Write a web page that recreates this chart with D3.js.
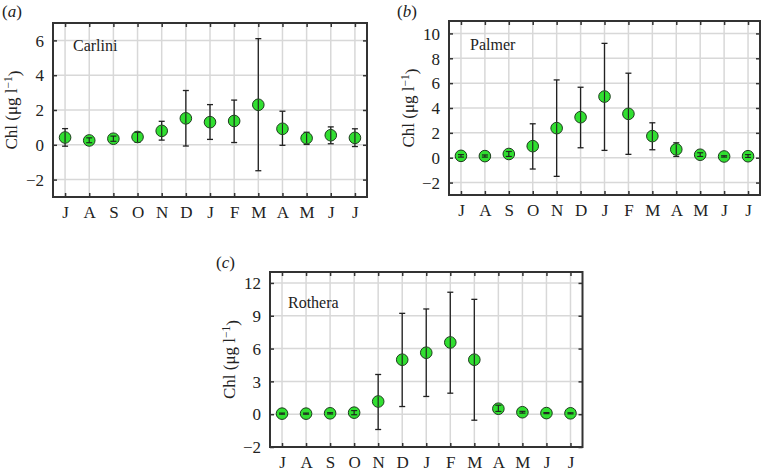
<!DOCTYPE html>
<html><head><meta charset="utf-8">
<script src="https://cdn.jsdelivr.net/npm/d3@7"></script>
<style>
body{margin:0;background:#fff;}
svg text{font-family:"Liberation Serif","Times New Roman",Times,serif;fill:#222;}
</style></head>
<body><svg id="chart" width="763" height="471"></svg>
<script>
const months = ["J","A","S","O","N","D","J","F","M","A","M","J","J"];

const carliniMean = [0.42,0.25,0.35,0.45,0.8,1.52,1.3,1.37,2.3,0.92,0.38,0.55,0.4];
const carliniLow  = [-0.08,0.12,0.2,0.15,0.27,-0.07,0.31,0.13,-1.49,-0.03,0.02,0.06,-0.1];
const carliniHigh = [0.93,0.4,0.5,0.72,1.35,3.12,2.31,2.57,6.1,1.93,0.72,1.03,0.92];
const carliniTicks = [-2,0,2,4,6];
const carliniTickLabels = ["\u22122","0","2","4","6"];

const palmerMean = [0.15,0.13,0.3,0.93,2.38,3.26,4.92,3.53,1.74,0.67,0.24,0.1,0.12];
const palmerLow  = [0.05,0.05,0.1,-0.91,-1.5,0.8,0.59,0.27,0.64,0.1,0.1,0.05,0.02];
const palmerHigh = [0.25,0.22,0.5,2.73,6.26,5.67,9.2,6.8,2.81,1.2,0.4,0.16,0.25];
const palmerTicks = [-2,0,2,4,6,8,10];
const palmerTickLabels = ["\u22122","0","2","4","6","8","10"];

const rotheraMean = [0.05,0.05,0.08,0.14,1.16,4.98,5.62,6.56,4.98,0.5,0.18,0.1,0.08];
const rotheraLow  = [0.0,0.0,0.02,-0.05,-1.4,0.7,1.62,1.92,-0.55,0.25,0.1,0.05,0.03];
const rotheraHigh = [0.1,0.1,0.14,0.33,3.63,9.22,9.62,11.15,10.5,0.82,0.26,0.15,0.13];
const rotheraTicks = [-3,0,3,6,9,12];
const rotheraTickLabels = ["\u22122","0","3","6","9","12"];

const panels = [
  {tag:"a", name:"Carlini", mean:carliniMean, low:carliniLow, high:carliniHigh,
   ticks:carliniTicks, tickLabels:carliniTickLabels, domain:[-3,7],
   x0:53, x1:367, y0:23, y1:197, nameX:20, nameY:28, tagX:2, tagY:17, ylabX:11.2},
  {tag:"b", name:"Palmer", mean:palmerMean, low:palmerLow, high:palmerHigh,
   ticks:palmerTicks, tickLabels:palmerTickLabels, domain:[-3,11],
   x0:449, x1:760, y0:21, y1:195, nameX:21, nameY:29, tagX:397, tagY:17, ylabX:408.5},
  {tag:"c", name:"Rothera", mean:rotheraMean, low:rotheraLow, high:rotheraHigh,
   ticks:rotheraTicks, tickLabels:rotheraTickLabels, domain:[-3,13],
   x0:270, x1:582.5, y0:272, y1:447, nameX:18, nameY:36, tagX:216, tagY:268, ylabX:229.3}
];

const svg = d3.select("#chart");
const FONT = '"Liberation Serif","Times New Roman",Times,serif';

panels.forEach(p => {
  const idx = d3.range(1, months.length + 1);
  const x = d3.scaleLinear().domain([0.5, months.length + 0.5]).range([p.x0, p.x1]);
  const y = d3.scaleLinear().domain(p.domain).range([p.y1, p.y0]);
  const g = svg.append("g");

  // grid
  g.selectAll(".vg").data(idx).enter().append("line")
    .attr("x1", d => x(d)).attr("x2", d => x(d))
    .attr("y1", p.y0).attr("y2", p.y1)
    .attr("stroke", "#d8d8d8").attr("stroke-width", 1.5);
  g.selectAll(".hg").data(p.ticks).enter().append("line")
    .attr("x1", p.x0).attr("x2", p.x1)
    .attr("y1", d => y(d)).attr("y2", d => y(d))
    .attr("stroke", "#d8d8d8").attr("stroke-width", 1.5);

  // axes via d3 (tick marks inward)
  const bottomAx = d3.axisBottom(x).tickValues(idx).tickFormat((d,i) => months[i])
    .tickSizeInner(-4).tickSizeOuter(0).tickPadding(9);
  const topAx = d3.axisTop(x).tickValues(idx).tickFormat("").tickSizeInner(-4).tickSizeOuter(0);
  const leftAx = d3.axisLeft(y).tickValues(p.ticks).tickFormat((d,i) => p.tickLabels[i])
    .tickSizeInner(-4).tickSizeOuter(0).tickPadding(9);
  const rightAx = d3.axisRight(y).tickValues(p.ticks).tickFormat("").tickSizeInner(-4).tickSizeOuter(0);

  const gb = g.append("g").attr("transform", `translate(0,${p.y1})`).call(bottomAx);
  const gt = g.append("g").attr("transform", `translate(0,${p.y0})`).call(topAx);
  const gl = g.append("g").attr("transform", `translate(${p.x0},0)`).call(leftAx);
  const gr = g.append("g").attr("transform", `translate(${p.x1},0)`).call(rightAx);
  [gb, gt, gl, gr].forEach(a => {
    a.attr("font-family", FONT).attr("font-size", 17);
    a.select(".domain").remove();
    a.selectAll(".tick line").attr("stroke", "#333").attr("stroke-width", 1.5);
    a.selectAll("text").style("font-family", FONT)
      .style("font-size", "17px").attr("fill", "#222");
  });
  gb.selectAll("text").attr("dy", "0.71em");
  gl.selectAll("text").attr("dy", "0.34em");

  // box
  g.append("rect").attr("x", p.x0).attr("y", p.y0)
    .attr("width", p.x1 - p.x0).attr("height", p.y1 - p.y0)
    .attr("fill", "none").attr("stroke", "#333").attr("stroke-width", 2);

  // error bars
  const eb = g.append("g").attr("stroke", "#222").attr("stroke-width", 1.3);
  idx.forEach((d, i) => {
    const cx = x(d);
    eb.append("line").attr("x1", cx).attr("x2", cx)
      .attr("y1", y(p.low[i])).attr("y2", y(p.high[i]));
    eb.append("line").attr("x1", cx - 3).attr("x2", cx + 3)
      .attr("y1", y(p.low[i])).attr("y2", y(p.low[i]));
    eb.append("line").attr("x1", cx - 3).attr("x2", cx + 3)
      .attr("y1", y(p.high[i])).attr("y2", y(p.high[i]));
  });

  // markers
  g.selectAll(".pt").data(idx).enter().append("circle")
    .attr("cx", d => x(d)).attr("cy", (d,i) => y(p.mean[i])).attr("r", 5.8)
    .attr("fill", "#1fdc1f").attr("fill-opacity", 0.92)
    .attr("stroke", "#1d3a1d").attr("stroke-width", 1);
  // error bar portion visible inside marker
  const eb2 = g.append("g").attr("stroke", "#222").attr("stroke-width", 1.1);
  idx.forEach((d, i) => {
    const cx = x(d);
    const lo = Math.max(y(p.high[i]), y(p.mean[i]) - 5), hi = Math.min(y(p.low[i]), y(p.mean[i]) + 5);
    if (hi > lo) eb2.append("line").attr("x1", cx).attr("x2", cx).attr("y1", lo).attr("y2", hi);
    [p.low[i], p.high[i]].forEach(v => {
      if (Math.abs(y(v) - y(p.mean[i])) < 5)
        eb2.append("line").attr("x1", cx - 3).attr("x2", cx + 3).attr("y1", y(v)).attr("y2", y(v));
    });
  });

  // station name
  g.append("text").attr("x", p.x0 + p.nameX).attr("y", p.y0 + p.nameY)
    .style("font-size", "16px").text(p.name);

  // panel tag
  const t = g.append("text").attr("x", p.tagX).attr("y", p.tagY).style("font-size", "17px");
  t.append("tspan").text("(");
  t.append("tspan").style("font-style", "italic").text(p.tag);
  t.append("tspan").text(")");

  // y label
  const yl = g.append("text")
    .attr("transform", `translate(${p.ylabX},${(p.y0 + p.y1) / 2}) rotate(-90)`)
    .attr("text-anchor", "middle").attr("dy", "0.35em").style("font-size", "17px");
  yl.append("tspan").text("Chl (\u03bcg l");
  yl.append("tspan").attr("dy", "-0.45em").style("font-size", "11.5px").text("\u22121");
  yl.append("tspan").attr("dy", "0.45em").text(")");
});
</script>
</body></html>
